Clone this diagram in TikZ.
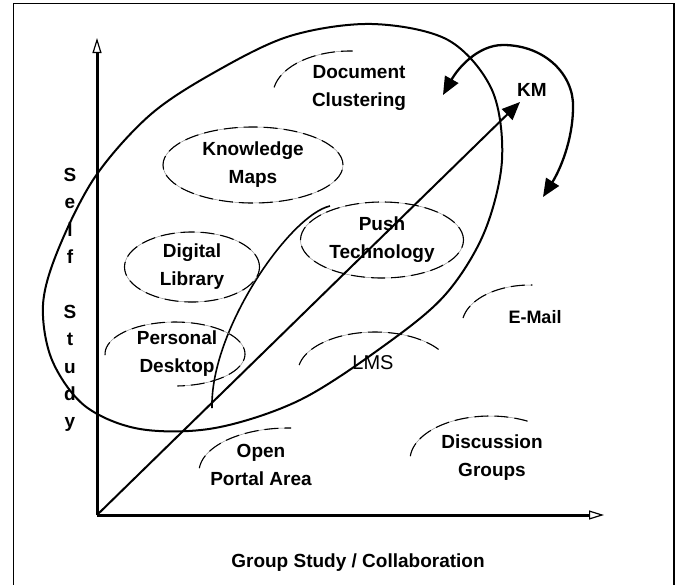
\documentclass[tikz,border=0pt]{standalone}
\usepackage{fontspec}
\setmainfont{Liberation Sans}
\usetikzlibrary{arrows.meta,shapes.geometric}
\tikzset{bigtip/.tip={Triangle[length=18pt, width=15pt]}}
\begin{document}
\begin{tikzpicture}[x=1pt,y=-1pt,
  lbl/.style={font=\fontsize{19}{28}\selectfont\bfseries, align=center, inner sep=0pt},
  softline/.style={draw=black!45, line width=0.5pt,
    postaction={draw=black, line width=1.1pt, dash pattern=on 14pt off 6pt}},
  bubble/.style={ellipse, softline, inner sep=0pt, align=center,
    font=\fontsize{19}{28}\selectfont\bfseries},
  axis/.style={line width=3pt, -{Triangle[open, line width=1.2pt, length=15pt, width=9pt]}},
  curve/.style={line width=2pt, line join=round}]

\useasboundingbox (0,0) rectangle (682,584);
% outer frame
\draw[line width=1.3pt] (13.5,3.5) rectangle (674,592);

% axes
\coordinate (O) at (97,515);
\coordinate (ytop) at (97,38);
\coordinate (xend) at (604,515);
\draw[axis] (O) -- (ytop);
\draw[axis] (O) -- (xend);

% large loop around the self-study tools
\draw[curve] plot[smooth cycle, tension=0.55] coordinates {
  (372,24) (448,40) (492,90) (502,160) (484,233) (445,295) (385,345)
  (300,400) (215,428) (140,429) (85,406) (52,360) (43,305) (58,250)
  (95,177) (150,115) (215,72) (290,36)};

% inner open arc
\draw[line width=1.6pt] (330,206) .. controls (290,215) and (210,330) .. (212,408);

% closed bubbles
\node[bubble, minimum width=180pt, minimum height=76pt] (kmaps) at (253,165) {Knowledge\\Maps};
\node[bubble, minimum width=135pt, minimum height=70pt] (dlib) at (192,267) {Digital\\Library};
\node[bubble, minimum width=163pt, minimum height=76pt] (push) at (382,240) {Push\\Technology};

% open bubbles
\draw[softline] plot[domain=190:272, samples=30, variable=\t] ({350+77*cos(\t)}, {95+44*sin(\t)});
\draw[softline] plot[domain=190:272, samples=30, variable=\t] ({530+68*cos(\t)}, {325+40*sin(\t)});
\draw[softline] plot[domain=190:326, samples=40, variable=\t] ({375+77*cos(\t)}, {372+40*sin(\t)});
\draw[softline] plot[domain=185:272, samples=30, variable=\t] ({288+89*cos(\t)}, {472+44*sin(\t)});
\draw[softline] plot[domain=185:298, samples=40, variable=\t] ({490+80*cos(\t)}, {460+44*sin(\t)});
\draw[softline] plot[domain=178:448, samples=60, variable=\t] ({175+70*cos(\t)}, {354+32*sin(\t)});

% labels
\node[lbl] (doc) at (359,88) {Document\\Clustering};
\node[lbl] (pers) at (177,354) {Personal\\Desktop};
\node[lbl, font=\fontsize{18}{26}\selectfont\bfseries] (mail) at (535,317) {E-Mail};
\node[lbl, font=\fontsize{20}{28}\selectfont] (lms) at (373,363) {LMS};
\node[lbl] (portal) at (261,465) {Open\\Portal Area};
\node[lbl] (disc) at (492,458) {Discussion\\Groups};
\node[lbl] (km) at (532,90) {KM};
\node[lbl] (xlabel) at (358,563) {Group Study / Collaboration};
\node[lbl, font=\fontsize{19}{27.4}\selectfont\bfseries] (ylabel) at (70,300)
  {S\\e\\l\\f\\\mbox{}\\S\\t\\u\\d\\y};

% diagonal towards KM
\coordinate (kmtip) at (520,102);
\draw[line width=2pt, -{bigtip}] (O) -- (kmtip);

% curved double arrow beside KM
\coordinate (ca) at (443,95);
\coordinate (cb) at (543,197);
\draw[line width=2.3pt, {bigtip}-{bigtip}] (ca)
  .. controls (458,68) and (478,45) .. (503,45)
  .. controls (545,45) and (574,75) .. (573,107)
  .. controls (573,140) and (560,170) .. (cb);
\end{tikzpicture}
\end{document}
